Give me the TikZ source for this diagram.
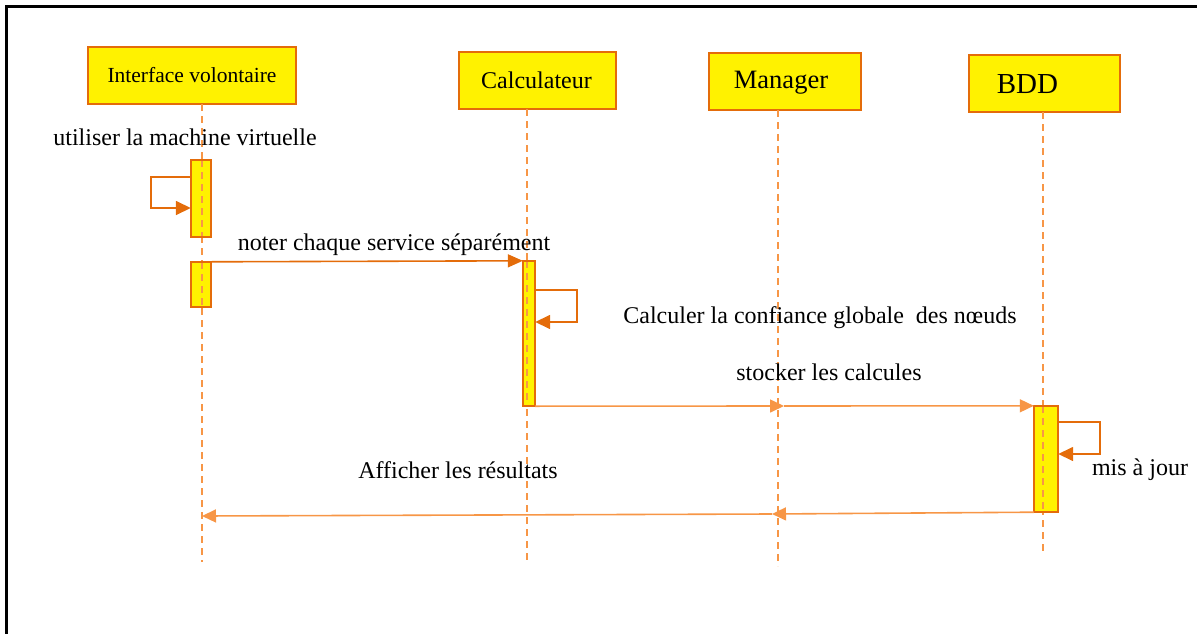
\documentclass[tikz,border=0pt]{standalone}
\usepackage{fontspec}
\setmainfont{Liberation Serif}
\usetikzlibrary{arrows.meta}
\definecolor{darkor}{HTML}{E46C0A}
\definecolor{lightor}{HTML}{F79646}
\tikzset{
  head/.style={draw=darkor, line width=2pt, fill=yellow, anchor=north west, inner sep=0pt},
  lifeline/.style={draw=lightor, line width=1.3pt, dash pattern=on 7pt off 5pt},
  actbox/.style={draw=darkor, line width=1.5pt},
  selfmsg/.style={draw=darkor, line width=1.6pt, -{Triangle[length=15pt,width=14pt]}},
  callmsg/.style={draw=darkor, line width=1.6pt, -{Triangle[length=15pt,width=13pt]}},
  lightmsg/.style={draw=lightor, line width=1.6pt, -{Triangle[length=14pt,width=13pt]}},
  lbl/.style={font=\fontsize{24}{28}\selectfont, inner sep=0pt}
}
\begin{document}
\begin{tikzpicture}[x=1pt,y=-1pt]
\useasboundingbox (0,0) rectangle (1197,634);
% frame
\draw[line width=3pt] (6,640) -- (6,6.5) -- (1200,6.5);

% lifeline heads
\node[head, minimum width=208pt, minimum height=57pt] (hiv) at (87,46) {};
\node[font=\fontsize{21.5}{24}\selectfont] at (hiv.center) {Interface volontaire};
\node[head, minimum width=157pt, minimum height=57pt] (hcal) at (458,51) {};
\node[font=\fontsize{24}{26}\selectfont] at ([xshift=-1pt]hcal.center) {Calculateur};
\node[head, minimum width=152pt, minimum height=57pt] (hman) at (708,52) {};
\node[font=\fontsize{26.5}{28}\selectfont] at ([xshift=-4pt,yshift=-1pt]hman.center) {Manager};
\node[head, minimum width=151pt, minimum height=57pt] (hbdd) at (968,54) {};
\node[font=\fontsize{29}{30}\selectfont] at ([xshift=-17pt,yshift=-1pt]hbdd.center) {BDD};

% lifeline ends
\coordinate (eiv) at (202,562);
\coordinate (ecal) at (527,562);
\coordinate (eman) at (778,566);
\coordinate (ebdd) at (1043,552);
\draw[lifeline] (202,104) -- (eiv);
\draw[lifeline] (527,109) -- (ecal);
\draw[lifeline] (778,110) -- (eman);
\draw[lifeline] (1043,112) -- (ebdd);

% activation bars: yellow fill, lifeline over it, border on top
\fill[yellow] (191,160) rectangle (211,237);
\draw[lifeline] (202,160) -- (202,237);
\draw[actbox] (191,160) rectangle (211,237);
\node[inner sep=0pt, minimum width=20pt, minimum height=77pt] (a1) at (201,198.5) {};

\fill[yellow] (191,262) rectangle (211,307);
\draw[lifeline] (202,262) -- (202,307);
\draw[actbox] (191,262) rectangle (211,307);
\node[inner sep=0pt, minimum width=20pt, minimum height=45pt] (a2) at (201,284.5) {};

\fill[yellow] (523,261) rectangle (535,406);
\draw[lifeline] (527,261) -- (527,406);
\draw[actbox] (523,261) rectangle (535,406);
\node[inner sep=0pt, minimum width=12pt, minimum height=145pt] (a3) at (529,333.5) {};

\fill[yellow] (1034,406) rectangle (1058,512);
\draw[lifeline] (1043,406) -- (1043,512);
\draw[actbox] (1034,406) rectangle (1058,512);
\node[inner sep=0pt, minimum width=24pt, minimum height=106pt] (a4) at (1046,459) {};

% self messages
\draw[selfmsg] (a1.west |- 0,177) -- (151,177) -- (151,208) -- (a1.west |- 0,208);
\draw[selfmsg] (a3.east |- 0,290) -- (577,290) -- (577,322) -- (a3.east |- 0,322);
\draw[selfmsg] (a4.east |- 0,422) -- (1100,422) -- (1100,454) -- (a4.east |- 0,454);

% messages between lifelines
\coordinate (mman1) at (784,406);
\coordinate (mman2) at (772,514);
\coordinate (miv) at (202,516);
\draw[callmsg] (a2.north east) -- (a3.north west);
\draw[lightmsg] (a3.south east) -- (mman1);
\draw[lightmsg] (mman1) -- (a4.north west);
\draw[lightmsg] (a4.south west) -- (mman2);
\draw[lightmsg] (mman2) -- (miv);

% labels
\node[lbl] at (185,137) {utiliser la machine virtuelle};
\node[lbl] at (394,245) {noter chaque service séparément};
\node[lbl] at (820,318) {Calculer la confiance globale\ \ des nœuds};
\node[lbl] at (829,372) {stocker les calcules};
\node[lbl] at (458,470) {Afficher les résultats};
\node[lbl] at (1140,470) {mis à jour};
\end{tikzpicture}
\end{document}
